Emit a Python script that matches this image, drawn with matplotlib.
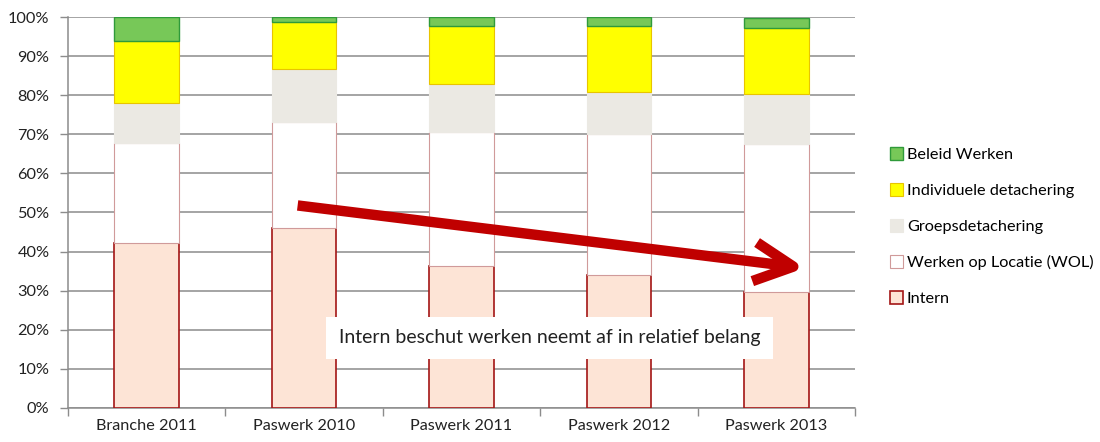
import matplotlib
matplotlib.use("Agg")
import matplotlib.pyplot as plt
import numpy as np
from matplotlib.ticker import PercentFormatter, FixedLocator
from matplotlib.patches import FancyArrowPatch

plt.rcParams['font.family'] = ['Lato', 'DejaVu Sans']

categories = ["Branche 2011", "Paswerk 2010", "Paswerk 2011", "Paswerk 2012", "Paswerk 2013"]
intern = [42.2, 46.0, 36.4, 34.0, 29.7]
wol = [25.7, 27.1, 34.3, 36.0, 37.7]
groeps = [10.0, 13.7, 12.2, 10.7, 13.0]
individueel = [16.0, 12.0, 14.9, 17.1, 16.9]
beleid = [6.1, 1.2, 2.2, 2.2, 2.4]

series_names = ["Intern", "Werken op Locatie (WOL)", "Groepsdetachering",
                "Individuele detachering", "Beleid Werken"]
series = [intern, wol, groeps, individueel, beleid]
fills = ["#fde4d6", "#ffffff", "#ebe9e3", "#ffff00", "#77c858"]
edges = ["#a31515", "#d09a9a", "#ebe9e3", "#e8c400", "#2f9a3a"]
lws = [1.2, 0.8, 0.8, 0.8, 1.0]

annotation = "Intern beschut werken neemt af in relatief belang"

fig = plt.figure(figsize=(11, 4.42), dpi=100)
ax = fig.add_axes([0.0615, 0.077, 0.716, 0.8845])

x = np.arange(len(categories))
bottom = np.zeros(len(categories))
handles = []
for name, vals, fc, ec, lw in zip(series_names, series, fills, edges, lws):
    vals = np.array(vals, dtype=float)
    b = ax.bar(x, vals, width=0.41, bottom=bottom, color=fc, edgecolor=ec,
               linewidth=lw, label=name, zorder=3)
    handles.append(b)
    bottom += vals

ax.set_xlim(-0.5, len(categories) - 0.5)
ax.set_ylim(0, 100)
ax.set_yticks(np.arange(0, 101, 10))
ax.yaxis.set_major_formatter(PercentFormatter(decimals=0))
ax.yaxis.grid(True, color="#8c8c8c", linewidth=1.1, zorder=0)
ax.set_axisbelow(True)

ax.set_xticks(x)
ax.set_xticklabels(categories)
ax.xaxis.set_minor_locator(FixedLocator(np.arange(-0.5, len(categories), 1.0)))
ax.tick_params(axis='x', which='major', length=0, pad=8, labelsize=11.7, colors="#222222")
ax.tick_params(axis='x', which='minor', length=6, width=1, color="#8c8c8c", direction='out')
ax.tick_params(axis='y', which='major', length=6, width=1, color="#8c8c8c", labelsize=11.7,
               labelcolor="#222222", pad=7)

for s in ["top", "right"]:
    ax.spines[s].set_visible(False)
for s in ["left", "bottom"]:
    ax.spines[s].set_color("#8c8c8c")
    ax.spines[s].set_linewidth(1.1)

# arrow
arrow = FancyArrowPatch((0.96, 51.8), (4.18, 35.8),
                        arrowstyle="->,head_length=1.4,head_width=0.7",
                        mutation_scale=20, color="#c00000", lw=7.5,
                        shrinkA=0, shrinkB=0, capstyle='butt', joinstyle='round',
                        zorder=6)
ax.add_patch(arrow)

# annotation box
ax.text(2.56, 17.9, annotation, ha="center", va="center",
        fontsize=14, color="#222222", zorder=7,
        bbox=dict(boxstyle="square,pad=0.65", facecolor="white", edgecolor="none"))

leg = fig.legend(handles=handles[::-1], labels=series_names[::-1],
                 loc="center left", bbox_to_anchor=(0.803, 0.487),
                 frameon=False, fontsize=11.7, handlelength=0.8, handleheight=0.8,
                 handletextpad=0.25, labelspacing=1.3, borderaxespad=0)

fig.savefig("out.png", dpi=100)
